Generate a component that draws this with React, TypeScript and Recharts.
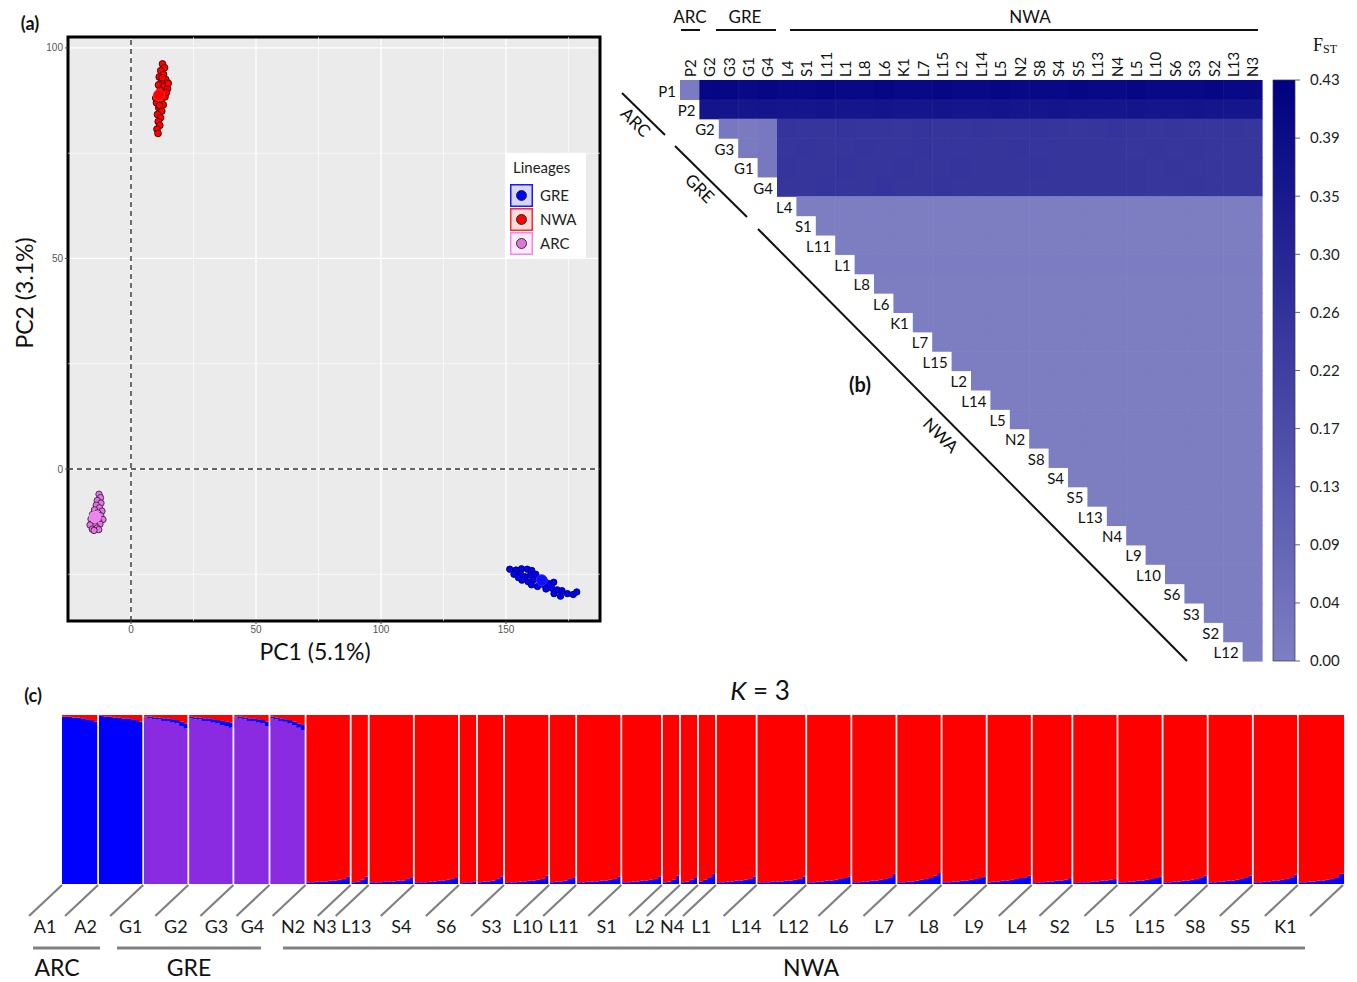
import React from 'react';
import {
  ScatterChart, Scatter, XAxis, YAxis, CartesianGrid, ReferenceLine, ReferenceArea,
  Legend, BarChart, Bar,
} from 'recharts';

const FONT = 'Lato, "Open Sans", sans-serif';

/* ---------------- Panel (a): PCA ---------------- */
const nwaPoints = [
  { x: 12.6, y: 96.2 }, { x: 13.4, y: 95.3 }, { x: 11.9, y: 94.6 }, { x: 13.0, y: 93.7 }, { x: 11.3, y: 93.1 },
  { x: 13.9, y: 92.5 }, { x: 12.2, y: 92.0 }, { x: 11.0, y: 91.2 }, { x: 13.1, y: 90.8 }, { x: 14.6, y: 90.3 },
  { x: 11.7, y: 90.0 }, { x: 12.8, y: 89.2 }, { x: 10.5, y: 88.7 }, { x: 13.6, y: 88.4 }, { x: 12.0, y: 87.6 },
  { x: 10.2, y: 87.0 }, { x: 12.9, y: 86.5 }, { x: 11.1, y: 85.8 }, { x: 12.3, y: 85.0 }, { x: 10.6, y: 84.2 },
  { x: 11.8, y: 83.4 }, { x: 10.9, y: 82.5 }, { x: 11.5, y: 81.6 }, { x: 10.4, y: 80.7 }, { x: 10.8, y: 79.7 },
  { x: 14.9, y: 91.6 }, { x: 9.9, y: 88.1 }, { x: 12.5, y: 92.9 }, { x: 14.1, y: 89.4 }, { x: 11.4, y: 86.3 },
];
const arcPoints = [
  { x: -12.8, y: -6.0 }, { x: -12.2, y: -6.8 }, { x: -13.5, y: -7.5 }, { x: -12.0, y: -8.1 }, { x: -13.9, y: -8.6 },
  { x: -12.6, y: -9.2 }, { x: -14.6, y: -9.7 }, { x: -11.6, y: -10.0 }, { x: -13.3, y: -10.4 }, { x: -15.4, y: -10.8 },
  { x: -12.1, y: -11.1 }, { x: -14.0, y: -11.6 }, { x: -16.0, y: -11.9 }, { x: -11.2, y: -12.0 }, { x: -13.0, y: -12.4 },
  { x: -15.2, y: -12.8 }, { x: -12.4, y: -13.1 }, { x: -14.4, y: -13.5 }, { x: -16.4, y: -13.3 }, { x: -13.6, y: -14.0 },
  { x: -15.5, y: -14.3 }, { x: -12.9, y: -14.4 }, { x: -14.8, y: -14.6 },
];
const grePoints = [
  { x: 151.5, y: -23.8 }, { x: 154.0, y: -24.0 }, { x: 156.2, y: -23.7 }, { x: 158.5, y: -23.8 }, { x: 160.3, y: -24.1 },
  { x: 153.2, y: -25.0 }, { x: 155.8, y: -24.9 }, { x: 157.6, y: -25.6 }, { x: 159.8, y: -25.2 }, { x: 161.9, y: -25.0 },
  { x: 156.4, y: -26.4 }, { x: 158.9, y: -26.8 }, { x: 161.0, y: -26.3 }, { x: 163.2, y: -26.1 }, { x: 165.4, y: -26.6 },
  { x: 160.2, y: -27.5 }, { x: 162.6, y: -27.9 }, { x: 164.8, y: -27.4 }, { x: 167.0, y: -27.2 }, { x: 169.1, y: -26.9 },
  { x: 166.0, y: -28.5 }, { x: 168.3, y: -28.3 }, { x: 170.5, y: -28.7 }, { x: 172.4, y: -28.9 }, { x: 169.2, y: -29.6 },
  { x: 171.8, y: -30.2 }, { x: 174.6, y: -29.6 }, { x: 176.9, y: -29.8 }, { x: 178.3, y: -29.2 }, { x: 155.0, y: -25.8 },
];
const nwaCentroid = [{ x: 11.2, y: 88.8 }];
const arcCentroid = [{ x: -14.4, y: -11.4 }];
const greCentroid = [{ x: 164.3, y: -26.4 }];

const pcaXDomain = [-25.2, 187.6];
const pcaYDomain = [-36.1, 102.6];
const pcaXTicks = [0, 50, 100, 150];
const pcaYTicks = [0, 50, 100];
const pcaXMinor = [25, 75, 125, 175];
const pcaYMinor = [-25, 25, 75];

const lineages = [
  { name: 'GRE', fill: '#0000FF', stroke: '#1a1aff', bg: 'rgba(0,0,255,0.16)' },
  { name: 'NWA', fill: '#FF0000', stroke: '#ff2a2a', bg: 'rgba(255,0,0,0.14)' },
  { name: 'ARC', fill: '#DD77DD', stroke: '#ee88ee', bg: 'rgba(238,130,238,0.16)' },
];

const dot = (fill: string, stroke: string, r: number) => (p: any) =>
  p.cx == null ? <g /> : <circle cx={p.cx} cy={p.cy} r={r} fill={fill} stroke={stroke} strokeWidth={0.9} />;

const LineageLegend = () => (
  <div style={{ background: '#fff', width: 81, height: 105, fontFamily: FONT, position: 'relative' }}>
    <div style={{ position: 'absolute', left: 8, top: 5, fontSize: 15, color: '#222' }}>Lineages</div>
    {lineages.map((l, i) => (
      <div key={l.name} style={{ position: 'absolute', left: 5, top: 31 + i * 24, height: 22, display: 'flex', alignItems: 'center' }}>
        <svg width={23} height={23}>
          <rect x={0.75} y={0.75} width={21.5} height={21.5} fill={l.bg} stroke={l.stroke} strokeWidth={1.5} />
          <circle cx={11.5} cy={11.5} r={5} fill={l.fill} stroke="#222" strokeWidth={0.9} />
        </svg>
        <span style={{ marginLeft: 7, fontSize: 15, color: '#222' }}>{l.name}</span>
      </div>
    ))}
  </div>
);

function PcaChart() {
  const tickStyle = { fontSize: 10, fill: '#555', fontFamily: '"Liberation Sans", Arial, sans-serif' };
  return (
    <ScatterChart width={620} height={680} margin={{ top: 37, right: 20, bottom: 29, left: 38 }}>
      <CartesianGrid fill="#EBEBEB" stroke="#FFFFFF" strokeWidth={1.3} />
      {pcaXMinor.map((v) => (
        <ReferenceLine key={'xm' + v} x={v} stroke="#FFFFFF" strokeWidth={0.6} />
      ))}
      {pcaYMinor.map((v) => (
        <ReferenceLine key={'ym' + v} y={v} stroke="#FFFFFF" strokeWidth={0.6} />
      ))}
      <XAxis type="number" dataKey="x" domain={pcaXDomain} ticks={pcaXTicks} allowDataOverflow height={30}
        tick={tickStyle} tickSize={3} tickMargin={2} axisLine={false} tickLine={{ stroke: '#444' }} />
      <YAxis type="number" dataKey="y" domain={pcaYDomain} ticks={pcaYTicks} allowDataOverflow width={30}
        tick={tickStyle} tickSize={3} tickMargin={2} axisLine={false} tickLine={{ stroke: '#444' }} />
      <ReferenceLine x={0} stroke="#333" strokeWidth={1.4} strokeDasharray="5 4" />
      <ReferenceLine y={0} stroke="#333" strokeWidth={1.4} strokeDasharray="5 4" />
      <Scatter name="NWA" data={nwaPoints} shape={dot('#FF0000', '#4a0000', 3.4)} isAnimationActive={false} />
      <Scatter name="ARC" data={arcPoints} shape={dot('#DD77DD', '#4a1f4a', 3.2)} isAnimationActive={false} />
      <Scatter name="GRE" data={grePoints} shape={dot('#0000FF', '#00005a', 3.2)} isAnimationActive={false} />
      <Scatter name="NWA centroid" legendType="none" data={nwaCentroid} shape={dot('#FF0000', '#ff3030', 5.5)} isAnimationActive={false} />
      <Scatter name="ARC centroid" legendType="none" data={arcCentroid} shape={dot('#EE82EE', '#f0a0f0', 5.5)} isAnimationActive={false} />
      <Scatter name="GRE centroid" legendType="none" data={greCentroid} shape={dot('#1010FF', '#3030ff', 5.5)} isAnimationActive={false} />
      <ReferenceArea x1={pcaXDomain[0]} x2={pcaXDomain[1]} y1={pcaYDomain[0]} y2={pcaYDomain[1]}
        fill="none" fillOpacity={0} stroke="#000" strokeWidth={3} ifOverflow="visible" />
      <Legend layout="vertical" align="center" verticalAlign="middle" content={() => <LineageLegend />}
        wrapperStyle={{ left: 505, top: 153, width: 81, height: 105 }} />
    </ScatterChart>
  );
}

/* ---------------- Panel (b): pairwise FST ---------------- */
const rowLabels = ['P1', 'P2', 'G2', 'G3', 'G1', 'G4', 'L4', 'S1', 'L11', 'L1', 'L8', 'L6', 'K1', 'L7', 'L15', 'L2',
  'L14', 'L5', 'N2', 'S8', 'S4', 'S5', 'L13', 'N4', 'L9', 'L10', 'S6', 'S3', 'S2', 'L12'];
const colLabels = ['P2', 'G2', 'G3', 'G1', 'G4', 'L4', 'S1', 'L11', 'L1', 'L8', 'L6', 'K1', 'L7', 'L15', 'L2',
  'L14', 'L5', 'N2', 'S8', 'S4', 'S5', 'L13', 'N4', 'L5', 'L10', 'S6', 'S3', 'S2', 'L13', 'N3'];

// P1 against every column
const fstP1 = [0.01, 0.405, 0.405, 0.40, 0.405, 0.40, 0.40, 0.405, 0.40, 0.40, 0.405, 0.40, 0.40, 0.405, 0.40,
  0.40, 0.405, 0.40, 0.40, 0.40, 0.405, 0.40, 0.40, 0.405, 0.40, 0.40, 0.40, 0.405, 0.40, 0.40];
// P2 against columns G2..N3
const fstP2 = [0.36, 0.36, 0.355, 0.36, 0.355, 0.355, 0.36, 0.355, 0.355, 0.36, 0.355, 0.355, 0.36, 0.355,
  0.355, 0.36, 0.355, 0.355, 0.36, 0.355, 0.355, 0.355, 0.36, 0.355, 0.355, 0.36, 0.355, 0.355, 0.355];
// GRE rows within GRE
const fstGreWithin = [[0.02, 0.015, 0.02], [0.015, 0.02], [0.02], []];
// GRE rows (G2, G3, G1, G4) against NWA columns
const fstGreNwa = [
  [0.252, 0.250, 0.248, 0.251, 0.249, 0.250, 0.247, 0.252, 0.250, 0.249, 0.251, 0.248, 0.250, 0.252, 0.249, 0.247, 0.250, 0.251, 0.248, 0.246, 0.249, 0.247, 0.245, 0.248, 0.246],
  [0.250, 0.251, 0.249, 0.250, 0.252, 0.248, 0.250, 0.251, 0.249, 0.250, 0.248, 0.250, 0.251, 0.249, 0.250, 0.248, 0.249, 0.250, 0.247, 0.248, 0.246, 0.248, 0.246, 0.247, 0.245],
  [0.251, 0.249, 0.250, 0.252, 0.250, 0.249, 0.251, 0.250, 0.248, 0.251, 0.250, 0.249, 0.250, 0.251, 0.248, 0.250, 0.249, 0.248, 0.249, 0.247, 0.248, 0.246, 0.247, 0.245, 0.246],
  [0.249, 0.250, 0.251, 0.249, 0.250, 0.251, 0.249, 0.250, 0.251, 0.248, 0.250, 0.250, 0.249, 0.250, 0.250, 0.249, 0.248, 0.250, 0.248, 0.247, 0.247, 0.248, 0.246, 0.246, 0.245],
];
// NWA rows, within NWA
const fstNwaWithin = [0.004, 0.005, 0.004, 0.006, 0.004, 0.005, 0.004, 0.005, 0.004, 0.005, 0.004, 0.005,
  0.004, 0.005, 0.004, 0.005, 0.004, 0.005, 0.004, 0.005, 0.004, 0.005, 0.004, 0.005];

const FST_MAX = 0.43;
const cbTicks = [0, 0.043, 0.086, 0.129, 0.172, 0.215, 0.258, 0.301, 0.344, 0.387, 0.43];
const cbLabels = ['0.00', '0.04', '0.09', '0.13', '0.17', '0.22', '0.26', '0.30', '0.35', '0.39', '0.43'];
const LOW = [126, 126, 195];
const HIGH = [0, 0, 128];
const fstColor = (v: number) => {
  const t = Math.max(0, Math.min(1, v / FST_MAX));
  const c = LOW.map((lo, i) => Math.round(lo + (HIGH[i] - lo) * t));
  return `rgb(${c[0]},${c[1]},${c[2]})`;
};

const fstValue = (r: number, c: number) => {
  if (r === 0) return fstP1[c];
  if (r === 1) return fstP2[c - 1];
  if (r <= 5) return c <= 4 ? fstGreWithin[r - 2][c - r] : fstGreNwa[r - 2][c - 5];
  return fstNwaWithin[r - 6];
};
const fstCells: { r: number; c: number; v: number }[] = [];
rowLabels.forEach((_, r) => {
  colLabels.forEach((__, c) => {
    if (c >= r) fstCells.push({ r, c, v: fstValue(r, c) });
  });
});
const colIdx = colLabels.map((_, i) => i);

const HM_W = 582;
const CELL = HM_W / colLabels.length;

const FstCell = (p: any) => {
  const { cx, cy, payload } = p;
  if (cx == null) return <g />;
  const h = CELL / 2;
  return (
    <g>
      <rect x={cx - h} y={cy - h} width={CELL + 0.6} height={CELL + 0.6} fill={fstColor(payload.v)} />
      {payload.c === payload.r && (
        <text x={cx - h - 4} y={cy + 1} textAnchor="end" dominantBaseline="central" fontSize={15}
          fontFamily={FONT} fill="#111">{rowLabels[payload.r]}</text>
      )}
    </g>
  );
};

const ColTick = (p: any) => {
  const { x, y, payload } = p;
  return (
    <text x={x} y={y} transform={`rotate(-90 ${x} ${y})`} textAnchor="start" dominantBaseline="central"
      fontSize={15} fontFamily={FONT} fill="#111">{colLabels[payload.value]}</text>
  );
};

function FstChart() {
  return (
    <ScatterChart width={680} height={680} margin={{ top: 50, right: 18, bottom: 19, left: 80 }}>
      <XAxis type="number" dataKey="c" orientation="top" domain={[-0.5, 29.5]} ticks={colIdx} interval={0}
        height={30} tick={<ColTick />} tickSize={0} tickMargin={3} axisLine={false} tickLine={false} />
      <YAxis type="number" dataKey="r" domain={[-0.5, 29.5]} reversed hide width={0} />
      <Scatter data={fstCells} shape={<FstCell />} isAnimationActive={false} />
    </ScatterChart>
  );
}

function ColorBar() {
  return (
    <BarChart width={94} height={700} data={[{ k: 'FST', v: FST_MAX }]} margin={{ top: 80, right: 12, bottom: 39, left: 10 }}
      barCategoryGap={0}>
      <defs>
        <linearGradient id="fstGrad" x1="0" y1="0" x2="0" y2="1">
          <stop offset="0" stopColor={fstColor(FST_MAX)} />
          <stop offset="1" stopColor={fstColor(0)} />
        </linearGradient>
      </defs>
      <XAxis dataKey="k" type="category" hide />
      <YAxis orientation="right" type="number" domain={[0, FST_MAX]} ticks={cbTicks} interval={0} width={50}
        tickFormatter={(v: number) => cbLabels[cbTicks.indexOf(v)]} axisLine={false} tickSize={5} tickMargin={10}
        tickLine={{ stroke: '#666' }} tick={{ fontSize: 15, fill: '#222', fontFamily: FONT }} />
      <Bar dataKey="v" fill="url(#fstGrad)" stroke="#333355" strokeWidth={0.7} isAnimationActive={false} />
    </BarChart>
  );
}

/* ---------------- Panel (c): STRUCTURE K = 3 ---------------- */
const popNames = ['A1', 'A2', 'G1', 'G2', 'G3', 'G4', 'N2', 'N3', 'L13', 'S4', 'S6', 'S3', 'L10', 'L11', 'S1', 'L2',
  'N4', 'L1', 'L14', 'L12', 'L6', 'L7', 'L8', 'L9', 'L4', 'S2', 'L5', 'L15', 'S8', 'S5', 'K1'];
const popLineage = ['ARC', 'ARC', 'GRE', 'GRE', 'GRE', 'GRE', 'NWA', 'NWA', 'NWA', 'NWA', 'NWA', 'NWA', 'NWA', 'NWA',
  'NWA', 'NWA', 'NWA', 'NWA', 'NWA', 'NWA', 'NWA', 'NWA', 'NWA', 'NWA', 'NWA', 'NWA', 'NWA', 'NWA', 'NWA', 'NWA', 'NWA'];
// % of the minor cluster per individual: red for ARC/GRE, blue for NWA
const popMinor = [
  [1, 1, 1.5, 1.5, 2, 2.5, 3, 4],
  [0.5, 1, 1, 1.5, 1.5, 2, 2, 2.5, 3, 4],
  [1, 1, 1.5, 1.5, 2, 2, 2.5, 3, 4, 5],
  [1, 1.5, 1.5, 2, 2, 2.5, 3, 3.5, 4, 4.5],
  [1, 1, 1.5, 2, 2, 2.5, 3, 4],
  [1, 1.5, 2, 2.5, 3, 4, 5, 6],
  [1, 1, 1.5, 1.5, 1.5, 2, 2, 2.5, 3, 4.5],
  [1, 1.5, 2.5, 4.5],
  [1, 1, 1, 1.5, 1.5, 1.5, 2, 2, 3, 4],
  [1, 1, 1, 1.5, 1.5, 2, 2, 2.5, 3, 4],
  [0.5, 1, 1, 1.5, 1, 1.5, 1.5, 2, 3, 4.5],
  [1, 1, 1, 1.5, 1.5, 2, 2, 2.5, 3, 5],
  [1, 1.5, 1.5, 2, 3, 4],
  [1, 1, 1.5, 1.5, 1.5, 2, 2, 2.5, 3, 4.5],
  [1, 1, 1.5, 1.5, 2, 2, 2.5, 3, 4.5],
  [1, 1.5, 2.5, 5, 1, 1.5, 2.5, 4],
  [1.5, 2.5, 4, 6],
  [1, 1, 1.5, 1.5, 2, 2, 2.5, 3, 4.5],
  [1, 1, 1, 1.5, 1.5, 1.5, 2, 2, 2.5, 3, 4.5],
  [1, 1, 1.5, 1.5, 2, 2, 2.5, 3, 3.5, 4.5],
  [1, 1, 1.5, 1.5, 2, 2, 2.5, 3, 4, 6],
  [1, 1, 1.5, 1.5, 2, 2.5, 3, 3.5, 5, 6.5],
  [1, 1, 1.5, 1.5, 2, 2, 2.5, 3, 3.5, 4.5],
  [1, 1.5, 1.5, 2, 2, 2.5, 3, 3.5, 4, 5],
  [0.5, 1, 1, 1.5, 1.5, 2, 2, 2.5, 3.5],
  [0.5, 1, 1, 1, 1.5, 1.5, 2, 2, 2.5, 3],
  [1, 1, 1.5, 1.5, 2, 2, 2.5, 3, 3.5, 4.5],
  [1, 1, 1.5, 1.5, 2, 2, 2.5, 3, 4, 5],
  [1, 1, 1.5, 1.5, 2, 2, 2.5, 3, 4, 5],
  [1, 1, 1.5, 1.5, 2, 2, 2.5, 3, 4, 5.5],
  [1, 1, 1.5, 1.5, 2, 2, 2.5, 3, 4, 6],
];
// % blue for GRE individuals (G1..G4)
const greBlue: Record<string, number[]> = {
  G1: [0.5, 1, 1, 1, 1.5, 1.5, 2, 2, 2.5, 3],
  G2: [1, 1, 1, 1.5, 1.5, 2, 2, 2.5, 2.5, 3],
  G3: [0.5, 1, 1, 1.5, 1.5, 2, 2, 2.5],
  G4: [1, 1, 1.5, 1.5, 2, 2, 2.5, 3],
};
// sampling-site sub-splits inside a population: [population, individual index, with slanted connector]
const popSubSplits: [string, number, boolean][] = [['S6', 4, false], ['L2', 4, true]];

type Row = { id: number; pop: string; purple: number; blue: number; red: number };
const admixRows: Row[] = [];
const popStart: Record<number, number> = {};
const separatorIds: number[] = [];
const slantIds = new Set<number>();
{
  let id = 0;
  popNames.forEach((name, p) => {
    popStart[id] = p;
    if (id > 0) separatorIds.push(id);
    slantIds.add(id);
    popMinor[p].forEach((m, k) => {
      const lin = popLineage[p];
      let purple = 0, blue = 0, red = 0;
      if (lin === 'ARC') { red = m; blue = 100 - m; }
      else if (lin === 'GRE') { red = m; blue = greBlue[name][k]; purple = 100 - red - blue; }
      else { blue = m; red = 100 - m; }
      admixRows.push({ id, pop: name, purple, blue, red });
      id++;
    });
  });
  popSubSplits.forEach(([name, k, slanted]) => {
    const p = popNames.indexOf(name);
    const startId = Number(Object.keys(popStart).find((s) => popStart[Number(s)] === p));
    separatorIds.push(startId + k);
    if (slanted) slantIds.add(startId + k);
  });
}
const LAST_ID = admixRows.length - 1;
const ST_LEFT = 62;
const ST_W = 1281;
const BW = ST_W / admixRows.length;
const SLANT_DX = 33;
const SLANT_DY = 31;
const LABEL_SHIFT = 35;

const StructTick = (props: any) => {
  const { x, y, payload } = props;
  const id = payload.value as number;
  const left = x - BW / 2;
  const items: React.ReactNode[] = [];
  const slant = (ex: number, key: string) => (
    <line key={key} x1={ex} y1={y + 1} x2={ex - SLANT_DX} y2={y + 1 + SLANT_DY} stroke="#808080" strokeWidth={2.2} />
  );
  if (slantIds.has(id)) items.push(slant(left, 's'));
  if (id === LAST_ID) items.push(slant(left + BW, 'e'));
  if (popStart[id] !== undefined) {
    const p = popStart[id];
    const cx = left + (popMinor[p].length * BW) / 2 - LABEL_SHIFT;
    items.push(
      <text key="t" x={cx} y={y + 42} textAnchor="middle" dominantBaseline="central" fontSize={18}
        fontFamily={FONT} fill="#1a1a1a">{popNames[p]}</text>
    );
  }
  return <g>{items}</g>;
};

const QBar = (p: any) => {
  if (!p.height || p.height <= 0) return <g />;
  return <rect x={p.x} y={p.y} width={p.width + 0.6} height={p.height} fill={p.fill} />;
};

function StructureChart() {
  return (
    <BarChart width={1357} height={282} data={admixRows} margin={{ top: 15, right: 14, bottom: 38, left: ST_LEFT }}
      barCategoryGap={0} barGap={0}>
      <XAxis dataKey="id" type="category" interval={0} height={60} tick={<StructTick />} tickSize={0} tickMargin={0}
        axisLine={false} tickLine={false} />
      <YAxis type="number" domain={[0, 100]} hide width={0} />
      <Bar dataKey="purple" stackId="q" fill="#8A2BE2" shape={<QBar />} isAnimationActive={false} />
      <Bar dataKey="blue" stackId="q" fill="#0000FF" shape={<QBar />} isAnimationActive={false} />
      <Bar dataKey="red" stackId="q" fill="#FF0000" shape={<QBar />} isAnimationActive={false} />
      {separatorIds.map((id) => (
        <ReferenceLine key={'sep' + id} x={id} position="start" stroke="#F4F4F4" strokeWidth={1.8} />
      ))}
    </BarChart>
  );
}

/* ---------------- Annotations ---------------- */
function Annotations() {
  const t = { fontFamily: FONT, fill: '#111' } as const;
  return (
    <svg width={1357} height={982} style={{ position: 'absolute', left: 0, top: 0, pointerEvents: 'none' }}>
      {/* panel letters */}
      <text x={30} y={23} textAnchor="middle" dominantBaseline="central" fontSize={18} fontWeight="bold" {...t}>(a)</text>
      <text x={860} y={384} textAnchor="middle" dominantBaseline="central" fontSize={20} fontWeight="bold" {...t}>(b)</text>
      <text x={33} y={695} textAnchor="middle" dominantBaseline="central" fontSize={18} fontWeight="bold" {...t}>(c)</text>
      {/* PCA axis titles */}
      <text x={315} y={651} textAnchor="middle" dominantBaseline="central" fontSize={23} {...t}>PC1 (5.1%)</text>
      <text x={24} y={293} textAnchor="middle" dominantBaseline="central" fontSize={23} transform="rotate(-90 24 293)" {...t}>PC2 (3.1%)</text>
      {/* FST top group labels */}
      <text x={690} y={16} textAnchor="middle" dominantBaseline="central" fontSize={17} {...t}>ARC</text>
      <text x={745} y={16} textAnchor="middle" dominantBaseline="central" fontSize={17} {...t}>GRE</text>
      <text x={1030} y={16} textAnchor="middle" dominantBaseline="central" fontSize={17} {...t}>NWA</text>
      <line x1={681} y1={30} x2={700} y2={30} stroke="#111" strokeWidth={2} />
      <line x1={716} y1={30} x2={776} y2={30} stroke="#111" strokeWidth={2} />
      <line x1={790} y1={30} x2={1258} y2={30} stroke="#111" strokeWidth={2} />
      {/* FST diagonal group labels */}
      <line x1={622} y1={93} x2={665} y2={135} stroke="#111" strokeWidth={2} />
      <line x1={675} y1={146} x2={747} y2={217} stroke="#111" strokeWidth={2} />
      <line x1={758} y1={229} x2={1187} y2={661} stroke="#111" strokeWidth={2} />
      <text x={636} y={122} textAnchor="middle" dominantBaseline="central" fontSize={17} transform="rotate(45 636 122)" {...t}>ARC</text>
      <text x={700} y={188} textAnchor="middle" dominantBaseline="central" fontSize={17} transform="rotate(45 700 188)" {...t}>GRE</text>
      <text x={941} y={435} textAnchor="middle" dominantBaseline="central" fontSize={17} transform="rotate(45 941 435)" {...t}>NWA</text>
      {/* FST colour bar title */}
      <text x={1313} y={51} fontFamily='"Liberation Serif", "DejaVu Serif", serif' fill="#111" fontSize={18}>
        F<tspan fontSize={12} dy={2}>ST</tspan>
      </text>
      {/* structure title & groups */}
      <text x={760} y={690} textAnchor="middle" dominantBaseline="central" fontSize={26} {...t}>
        <tspan fontStyle="italic">K</tspan> = 3
      </text>
      <line x1={33} y1={948} x2={100} y2={948} stroke="#808080" strokeWidth={3} />
      <line x1={117} y1={948} x2={261} y2={948} stroke="#808080" strokeWidth={3} />
      <line x1={283} y1={948} x2={1305} y2={948} stroke="#808080" strokeWidth={3} />
      <text x={57} y={967} textAnchor="middle" dominantBaseline="central" fontSize={23} {...t}>ARC</text>
      <text x={189} y={967} textAnchor="middle" dominantBaseline="central" fontSize={23} {...t}>GRE</text>
      <text x={811} y={967} textAnchor="middle" dominantBaseline="central" fontSize={23} {...t}>NWA</text>
    </svg>
  );
}

export default function App() {
  return (
    <div style={{ position: 'absolute', left: 0, top: 0, width: 1357, height: 982, background: '#fff', overflow: 'hidden', fontFamily: FONT }}>
      <div style={{ position: 'absolute', left: 0, top: 0 }}><PcaChart /></div>
      <div style={{ position: 'absolute', left: 600, top: 0 }}><FstChart /></div>
      <div style={{ position: 'absolute', left: 1263, top: 0 }}><ColorBar /></div>
      <div style={{ position: 'absolute', left: 0, top: 700 }}><StructureChart /></div>
      <Annotations />
    </div>
  );
}
